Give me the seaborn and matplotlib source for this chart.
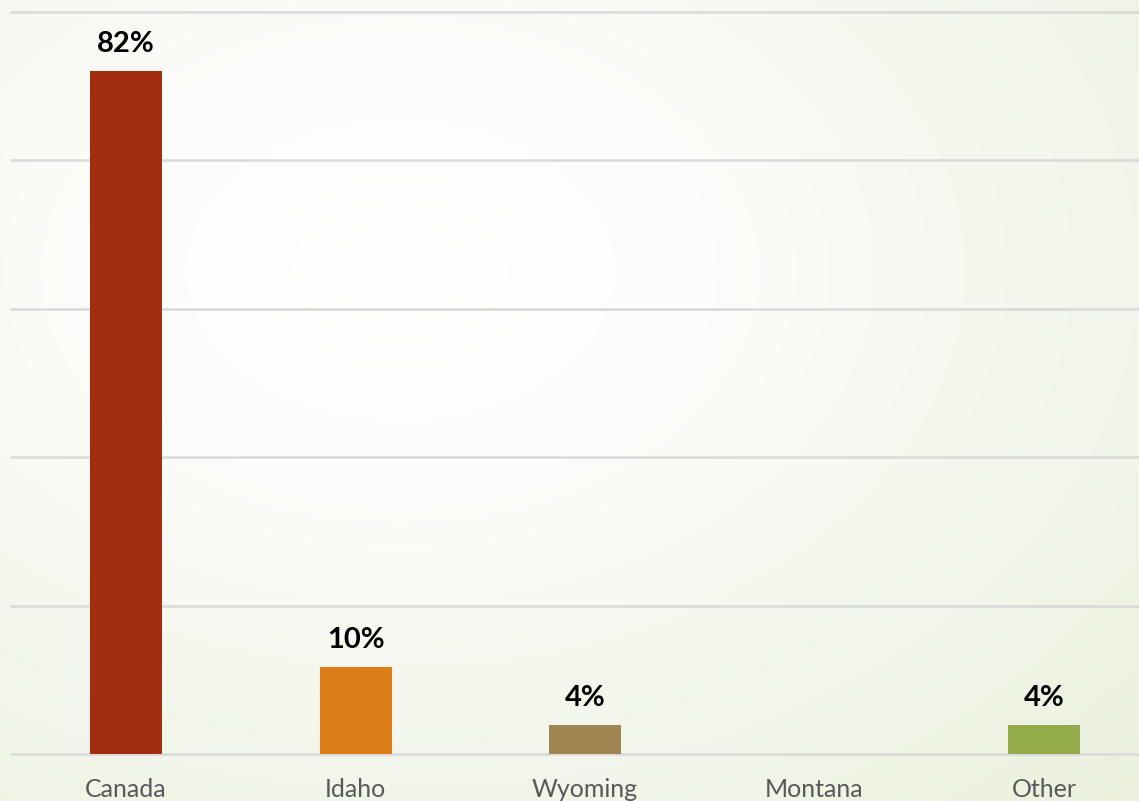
import numpy as np
import pandas as pd
import matplotlib
matplotlib.use("Agg")
import matplotlib.pyplot as plt
import seaborn as sns
from matplotlib.colors import LinearSegmentedColormap

categories = ["Canada", "Idaho", "Wyoming", "Montana", "Other"]
values = [82, 10.5, 3.5, 0, 3.5]
value_labels = ["82%", "10%", "4%", "", "4%"]
bar_colors = ["#A32E0F", "#DD7D19", "#A08551", "#7F7F7F", "#93AB4B"]

sns.set_style("white")
plt.rcParams["font.family"] = ["Lato", "DejaVu Sans"]

W, H = 1139, 801
fig = plt.figure(figsize=(W / 100, H / 100), dpi=100)

# radial gradient background
bg = fig.add_axes([0, 0, 1, 1], zorder=0)
yy, xx = np.mgrid[0:H, 0:W]
cx, cy = 400, 270
r = np.sqrt(((xx - cx) / W) ** 2 + ((yy - cy) / H) ** 2)
r = r / r.max()
cmap = LinearSegmentedColormap.from_list(
    "bg", [(0, "#FFFFFF"), (0.3, "#FCFCFA"), (0.45, "#F8F9F3"), (0.7, "#F2F5E9"), (1, "#ECF0DD")])
bg.imshow(r, cmap=cmap, aspect="auto", extent=[0, 1, 0, 1], origin="upper")
bg.axis("off")

ymax = 89.1
left = 11.25 / W
width = 229.5 * 5 / W
bottom = 47 / H
height = 742 / H
ax = fig.add_axes([left, bottom, width, height], zorder=1)
ax.set_facecolor("none")

df = pd.DataFrame({"cat": categories, "val": values})
sns.barplot(data=df, x="cat", y="val", hue="cat", palette=bar_colors,
            width=72 / 229.5, legend=False, ax=ax, saturation=1, zorder=3,
            linewidth=0, edgecolor="none")

ax.set_ylim(0, ymax)
ax.set_xlim(-0.5, len(categories) - 0.5)
ax.set_yticks(np.linspace(0, ymax, 6))
ax.yaxis.grid(True, color="#D9D9D9", linewidth=1.8, zorder=0)
for gl in ax.get_ygridlines():
    gl.set_clip_on(False)
ax.set_axisbelow(True)
ax.set_yticklabels([])
ax.set_xlabel("")
ax.set_ylabel("")
for s in ax.spines.values():
    s.set_visible(False)
ax.tick_params(axis="both", length=0)
ax.tick_params(axis="x", labelsize=18, labelcolor="#595959", pad=17)

for i, (v, lab) in enumerate(zip(values, value_labels)):
    if lab:
        ax.annotate(lab, (i, v), xytext=(0, 13.5), textcoords="offset points",
                    ha="center", va="baseline", fontsize=21, fontweight="bold",
                    color="#000000")

fig.savefig("out.png", dpi=100)
